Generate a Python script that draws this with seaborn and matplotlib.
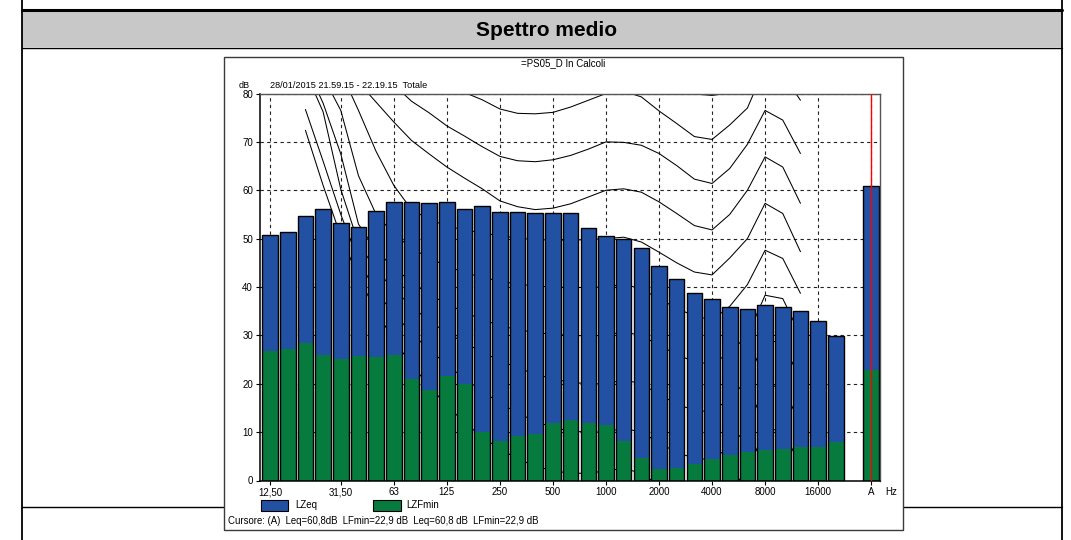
import pandas as pd
import matplotlib
matplotlib.use("Agg")
import matplotlib.pyplot as plt
from matplotlib.patches import Rectangle
from matplotlib.lines import Line2D
import seaborn as sns

W, H = 1071, 540

# 1/3 octave bands + A total
bands = ["12.5", "16", "20", "25", "31.5", "40", "50", "63", "80", "100", "125", "160",
         "200", "250", "315", "400", "500", "630", "800", "1000", "1250", "1600", "2000",
         "2500", "3150", "4000", "5000", "6300", "8000", "10000", "12500", "16000", "20000", "A"]
lzeq = [50.8, 51.3, 54.6, 56.2, 53.3, 52.5, 55.7, 57.6, 57.6, 57.3, 57.6, 56.2,
        56.8, 55.5, 55.5, 55.2, 55.2, 55.2, 52.2, 50.6, 50.0, 48.0, 44.3,
        41.6, 38.7, 37.6, 35.8, 35.5, 36.3, 35.8, 35.0, 32.9, 29.8, 60.8]
lzfmin = [26.8, 27.2, 28.4, 26.0, 25.2, 25.8, 25.5, 26.0, 21.0, 18.8, 21.5, 20.0,
          10.0, 8.2, 9.3, 9.6, 11.9, 12.5, 11.9, 11.4, 8.2, 4.7, 2.3,
          2.6, 3.4, 4.4, 5.2, 5.8, 6.3, 6.6, 6.9, 6.9, 8.0, 22.9]

# equal loudness contours, 20 Hz .. 12.5 kHz
contour_bands = bands[2:31]
threshold = [72.4, 61.0, 50.5, 42.0, 35.0, 29.0, 24.0, 19.5, 15.5, 12.0, 9.0, 6.5, 4.5, 3.0, 2.0,
             1.5, 1.5, 2.0, 2.5, 1.5, -1.0, -3.0, -4.0, -4.5, -2.0, 2.0, 10.5, 10.5, 3.0]
phon10 = [76.7, 66.0, 55.0, 45.5, 39.0, 34.5, 30.5, 27.0, 24.0, 21.0, 18.5, 16.0, 14.0, 12.2, 11.0,
          10.2, 10.0, 10.0, 10.8, 10.0, 7.8, 5.8, 4.6, 4.3, 7.0, 11.0, 19.5, 19.5, 11.5]
phon20 = [84.5, 76.2, 60.2, 49.0, 43.5, 39.5, 36.0, 33.0, 30.5, 28.5, 26.5, 24.8, 23.3, 22.0, 21.0,
          20.3, 20.0, 20.0, 20.8, 20.0, 17.8, 15.8, 14.5, 14.2, 17.0, 20.8, 29.0, 28.5, 20.8]
phon30 = [86.0, 78.0, 67.5, 53.0, 47.5, 44.0, 41.0, 38.5, 36.5, 34.8, 33.3, 32.0, 31.2, 30.6, 30.2,
          30.0, 29.9, 30.0, 30.8, 29.9, 28.0, 26.0, 24.6, 24.0, 26.5, 30.0, 38.3, 37.6, 30.0]
phon40 = [88.0, 83.5, 76.5, 63.0, 55.0, 51.0, 48.0, 46.0, 44.3, 43.0, 42.0, 41.2, 40.6, 40.2, 40.0,
          39.9, 39.9, 40.0, 40.6, 39.6, 37.6, 35.6, 34.0, 33.2, 36.0, 40.5, 47.6, 45.9, 38.7]
phon50 = [90.0, 87.0, 84.5, 76.5, 68.0, 61.0, 56.0, 54.0, 52.6, 51.8, 51.2, 50.6, 50.1, 49.8, 49.7,
          49.7, 49.8, 50.0, 50.3, 49.3, 47.2, 45.0, 43.1, 42.5, 46.0, 50.0, 57.3, 55.2, 47.3]
phon60 = [94.5, 90.5, 86.5, 82.3, 78.2, 74.1, 70.3, 67.5, 64.8, 62.5, 60.3, 57.8, 56.6, 56.0, 56.3,
          57.2, 58.6, 60.0, 60.3, 59.6, 57.6, 55.2, 52.7, 51.8, 55.0, 60.0, 66.9, 64.8, 57.3]
phon70 = [97.5, 94.0, 90.5, 87.0, 84.5, 81.8, 78.4, 76.0, 73.3, 71.2, 69.0, 67.0, 66.1, 65.9, 66.3,
          67.2, 68.5, 70.0, 69.9, 69.3, 67.6, 65.1, 62.3, 61.4, 64.5, 69.5, 76.5, 74.5, 67.6]
phon80 = [103.0, 100.0, 97.0, 94.0, 91.0, 88.5, 86.0, 83.8, 81.7, 80.2, 78.7, 76.8, 75.9, 75.8, 76.1,
          77.2, 78.6, 80.0, 80.5, 79.3, 76.4, 73.8, 71.1, 70.5, 73.5, 77.0, 85.5, 84.0, 78.6]
phon90 = [110.0, 107.0, 104.0, 101.5, 99.0, 97.0, 95.0, 93.3, 91.6, 90.3, 89.0, 87.3, 86.4, 86.2, 86.5,
          87.5, 88.8, 90.0, 90.4, 89.0, 85.5, 82.6, 79.9, 79.6, 80.1, 86.0, 95.0, 93.5, 88.5]

tick_bands = ["12.5", "31.5", "63", "125", "250", "500", "1000", "2000", "4000", "8000", "16000", "A"]
tick_labels = ["12,50", "31,50", "63", "125", "250", "500", "1000", "2000", "4000", "8000", "16000", "A"]

BLUE = "#2251a3"
GREEN = "#077a3e"

order = bands[:-1] + [" ", "A"]  # empty slot before the A bar
pos = {b: i for i, b in enumerate(order)}
df = pd.DataFrame({"band": bands, "LZeq": lzeq, "LZFmin": lzfmin})

sns.set_style("white")
plt.rcParams["font.family"] = ["Liberation Sans", "DejaVu Sans"]
plt.rcParams["text.color"] = "black"

fig = plt.figure(figsize=(W / 100, H / 100), dpi=100)


def fx(px):
    return px / W


def fy(py):
    return 1 - py / H


# report table frame
fig.add_artist(Rectangle((fx(22), fy(47)), fx(1062) - fx(22), fy(11) - fy(47),
                         facecolor="#c8c8c8", edgecolor="none", zorder=-4))
for y0, lw in [(10, 2.2), (48, 1.0), (507, 1.0)]:
    fig.add_artist(Line2D([fx(22), fx(1062)], [fy(y0), fy(y0)], color="black", lw=lw, zorder=-3))
for x0 in (22, 1062):
    fig.add_artist(Line2D([fx(x0), fx(x0)], [0, 1], color="black", lw=1.3, zorder=-3))
fig.text(fx(547), fy(31), "Spettro medio", ha="center", va="center", fontsize=15,
         fontweight="bold", family=["Liberation Sans Narrow", "Liberation Sans"])

# chart image box
fig.add_artist(Rectangle((fx(224), fy(530)), fx(903) - fx(224), fy(57) - fy(530),
                         facecolor="white", edgecolor="#3a3a3a", lw=1, zorder=-1))

ax = fig.add_axes([fx(260), fy(480.5), fx(880) - fx(260), fy(93.5) - fy(480.5)])

sns.barplot(data=df, x="band", y="LZeq", order=order, color=BLUE, saturation=1,
            width=0.88, errorbar=None, linewidth=0, zorder=2, ax=ax)
sns.barplot(data=df, x="band", y="LZFmin", order=order, color=GREEN, saturation=1,
            width=0.88, errorbar=None, linewidth=0, zorder=2.1, ax=ax)
sns.barplot(data=df, x="band", y="LZeq", order=order, color="black", fill=False,
            width=0.88, errorbar=None, linewidth=1.0, zorder=2.2, ax=ax)

cx = [pos[b] for b in contour_bands]
for curve in [threshold, phon10, phon20, phon30, phon40, phon50, phon60, phon70, phon80, phon90]:
    ax.plot(cx, curve, color="black", lw=0.75, zorder=1.2)

ax.axvline(pos["A"], color="red", lw=1, zorder=3)

ax.set_xlim(-0.57, 34.5)
ax.set_ylim(0, 80)
ax.set_yticks(range(0, 81, 10))
ax.set_xticks([pos[b] for b in tick_bands])
ax.set_xticklabels(tick_labels)
ax.set_xlabel("")
ax.set_ylabel("")
ax.tick_params(labelsize=7, length=3, width=0.8, pad=2, bottom=True, left=True, colors="black")

ax.grid(True, color="#222222", linestyle=(0, (3, 3)), lw=0.8)
ax.set_axisbelow(True)
for side in ["left", "bottom"]:
    ax.spines[side].set_color("black")
    ax.spines[side].set_linewidth(1.1)
for side in ["top", "right"]:
    ax.spines[side].set_color("#555555")
    ax.spines[side].set_linewidth(1.0)

# texts inside the chart image
fig.text(fx(563), fy(63), "=PS05_D In Calcoli", ha="center", va="center", fontsize=7)
fig.text(fx(239), fy(85), "dB", va="center", fontsize=6.5)
fig.text(fx(270), fy(85), "28/01/2015 21.59.15 - 22.19.15  Totale", va="center", fontsize=6.6)
fig.text(fx(885), fy(492), "Hz", va="center", fontsize=7)

# legend
fig.add_artist(Rectangle((fx(261), fy(511)), fx(288) - fx(261), fy(500) - fy(511),
                         facecolor=BLUE, edgecolor="black", lw=0.8))
fig.text(fx(295), fy(505.5), "LZeq", va="center", fontsize=7)
fig.add_artist(Rectangle((fx(373), fy(511)), fx(401) - fx(373), fy(500) - fy(511),
                         facecolor=GREEN, edgecolor="black", lw=0.8))
fig.text(fx(406), fy(505.5), "LZFmin", va="center", fontsize=7)

fig.text(fx(228), fy(521.5), "Cursore: (A)  Leq=60,8dB  LFmin=22,9 dB  Leq=60,8 dB  LFmin=22,9 dB",
         va="center", fontsize=6.95)

fig.savefig("out.png", dpi=100)
plt.close(fig)
